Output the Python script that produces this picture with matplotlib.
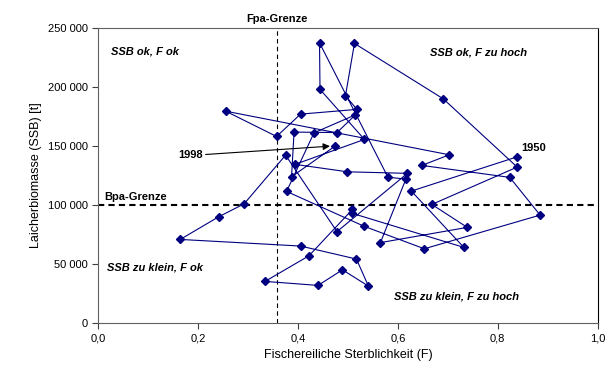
import matplotlib
matplotlib.use("Agg")
import matplotlib.pyplot as plt
from matplotlib.ticker import FuncFormatter, MultipleLocator

plt.rcParams['font.family'] = ['Liberation Sans', 'DejaVu Sans']

# Jahresreihe 1950 ... 1998
fmort = [0.839, 0.627, 0.732, 0.509, 0.509, 0.422, 0.334, 0.440, 0.489, 0.541,
         0.517, 0.405, 0.164, 0.241, 0.292, 0.375, 0.478, 0.619, 0.499, 0.394,
         0.533, 0.444, 0.443, 0.580, 0.616, 0.565, 0.739, 0.668, 0.839, 0.691,
         0.513, 0.495, 0.518, 0.405, 0.357, 0.255, 0.703, 0.648, 0.824, 0.885,
         0.653, 0.533, 0.377, 0.432, 0.515, 0.478, 0.392, 0.387, 0.475]
ssb = [140900, 111900, 64300, 93000, 96400, 57200, 35500, 32100, 45300, 31500,
       54400, 65400, 71000, 90150, 101100, 142300, 77600, 126900, 128200, 134500,
       155600, 197900, 237300, 123700, 122000, 68300, 81200, 100600, 132200, 189900,
       236800, 192500, 181000, 177000, 158100, 179500, 142600, 133600, 123500, 91600,
       63100, 82000, 111600, 161200, 176400, 161400, 161800, 124000, 150200]

f_pa = 0.357
b_pa = 100000

fig = plt.figure(figsize=(6.11, 3.76), dpi=100)
ax = fig.add_axes([0.161, 0.140, 0.817, 0.786])

ax.plot(fmort, ssb, color='#000080', lw=0.8, marker='D', ms=4,
        markerfacecolor='#000080', markeredgecolor='#000080', zorder=3)

ax.axvline(f_pa, color='black', ls=(0, (4, 3)), lw=0.8, zorder=2)
ax.axhline(b_pa, color='black', ls=(0, (3, 2)), lw=1.5, zorder=2)

ax.set_xlim(0, 1.0)
ax.set_ylim(0, 250000)
ax.xaxis.set_major_locator(MultipleLocator(0.2))
ax.yaxis.set_major_locator(MultipleLocator(50000))
ax.xaxis.set_major_formatter(FuncFormatter(lambda v, p: f'{v:.1f}'.replace('.', ',')))
ax.yaxis.set_major_formatter(FuncFormatter(lambda v, p: f'{int(v):,}'.replace(',', ' ')))
ax.tick_params(labelsize=8, length=4, width=0.8, color='#404040')

for side in ['left', 'bottom', 'top']:
    ax.spines[side].set_color('#606060')
ax.spines['right'].set_color('black')

ax.set_xlabel('Fischereiliche Sterblichkeit (F)', fontsize=9)
ax.set_ylabel('Laicherbiomasse (SSB) [t]', fontsize=9)

# Grenzen und Quadranten
ax.text(f_pa, 253000, 'Fpa-Grenze', ha='center', va='bottom', fontsize=8, fontweight='bold')
ax.text(0.012, 102500, 'Bpa-Grenze', ha='left', va='bottom', fontsize=8, fontweight='bold')
kw = dict(fontsize=8, fontweight='bold', style='italic')
ax.text(0.025, 230000, 'SSB ok, F ok', ha='left', va='center', **kw)
ax.text(0.665, 229000, 'SSB ok, F zu hoch', ha='left', va='center', **kw)
ax.text(0.018, 47000, 'SSB zu klein, F ok', ha='left', va='center', **kw)
ax.text(0.593, 23000, 'SSB zu klein, F zu hoch', ha='left', va='center', **kw)

ax.text(fmort[0] + 0.008, ssb[0] + 3500, '1950', ha='left', va='bottom', fontsize=8, fontweight='bold')
ax.annotate('1998', xy=(fmort[-1], ssb[-1]), xytext=(0.16, 142000),
            ha='left', va='center', fontsize=8, fontweight='bold',
            arrowprops=dict(arrowstyle='-|>', color='black', lw=0.8, mutation_scale=10,
                            shrinkA=0, shrinkB=4))

fig.savefig('out.png', dpi=100)
